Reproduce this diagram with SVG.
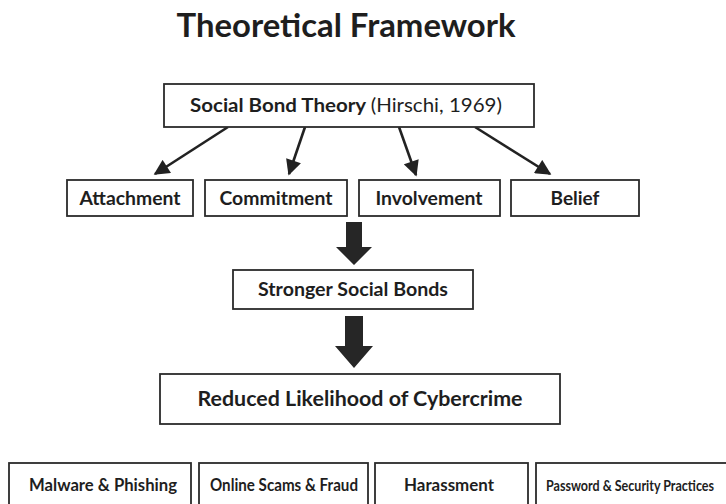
<svg xmlns="http://www.w3.org/2000/svg" width="726" height="504" viewBox="0 0 726 504">
  <defs>
    <style>
      .box { fill: #ffffff; stroke: #2b2b2b; stroke-width: 1.8; }
      .lbl { font-family: Lato, "Open Sans", "Liberation Sans", sans-serif; font-weight: bold; fill: #1e1e1e; text-anchor: middle; }
      .lite { font-weight: normal; }
      .link { stroke: #222222; stroke-width: 2.6; fill: none; marker-end: url(#head); }
      .block { fill: #262626; }
    </style>
    <marker id="head" viewBox="0 0 10 10" refX="9" refY="5" markerWidth="6.5" markerHeight="6" orient="auto" markerUnits="strokeWidth">
      <path d="M0,0 L10,5 L0,10 z" fill="#222222"/>
    </marker>
  </defs>

  <rect width="726" height="504" fill="#ffffff"/>

  <text class="lbl" x="346" y="37" font-size="32" textLength="339" lengthAdjust="spacingAndGlyphs">Theoretical Framework</text>

  <g id="connectors">
    <line class="link" x1="228" y1="127" x2="155" y2="174"/>
    <line class="link" x1="305" y1="127" x2="289" y2="174"/>
    <line class="link" x1="399" y1="127" x2="416" y2="175"/>
    <line class="link" x1="475" y1="127" x2="550" y2="174"/>
    <path class="block" d="M346,222 H362 V247 H372 L354,265 L336,247 H346 Z"/>
    <path class="block" d="M345,316 H363 V346 H373 L354,368 L335,346 H345 Z"/>
  </g>

  <g id="social-bond-theory">
    <rect class="box" x="164" y="84" width="370" height="43"/>
    <text class="lbl" x="346" y="112" font-size="19" textLength="312" lengthAdjust="spacingAndGlyphs">Social Bond Theory <tspan class="lite">(Hirschi, 1969)</tspan></text>
  </g>

  <g id="attachment">
    <rect class="box" x="67" y="180" width="126" height="36"/>
    <text class="lbl" x="130" y="205" font-size="19" textLength="101" lengthAdjust="spacingAndGlyphs">Attachment</text>
  </g>
  <g id="commitment">
    <rect class="box" x="205" y="180" width="142" height="36"/>
    <text class="lbl" x="276" y="205" font-size="19" textLength="113" lengthAdjust="spacingAndGlyphs">Commitment</text>
  </g>
  <g id="involvement">
    <rect class="box" x="359" y="180" width="141" height="36"/>
    <text class="lbl" x="429" y="205" font-size="19" textLength="107" lengthAdjust="spacingAndGlyphs">Involvement</text>
  </g>
  <g id="belief">
    <rect class="box" x="511" y="180" width="128" height="36"/>
    <text class="lbl" x="575" y="205" font-size="19">Belief</text>
  </g>

  <g id="stronger-social-bonds">
    <rect class="box" x="233" y="270" width="240" height="39"/>
    <text class="lbl" x="353" y="296" font-size="18" textLength="190" lengthAdjust="spacingAndGlyphs">Stronger Social Bonds</text>
  </g>

  <g id="reduced-likelihood">
    <rect class="box" x="160" y="374" width="400" height="50"/>
    <text class="lbl" x="360" y="406" font-size="20.5" textLength="325" lengthAdjust="spacingAndGlyphs">Reduced Likelihood of Cybercrime</text>
  </g>

  <g id="malware-phishing">
    <rect class="box" x="9" y="463" width="182" height="50"/>
    <text class="lbl" x="103" y="491" font-size="16.5" textLength="148" lengthAdjust="spacingAndGlyphs">Malware &amp; Phishing</text>
  </g>
  <g id="online-scams-fraud">
    <rect class="box" x="199" y="463" width="169" height="50"/>
    <text class="lbl" x="284" y="491" font-size="16.5" textLength="148" lengthAdjust="spacingAndGlyphs">Online Scams &amp; Fraud</text>
  </g>
  <g id="harassment">
    <rect class="box" x="375" y="463" width="153" height="50"/>
    <text class="lbl" x="449" y="491" font-size="16.5" textLength="90" lengthAdjust="spacingAndGlyphs">Harassment</text>
  </g>
  <g id="password-security">
    <rect class="box" x="536" y="463" width="200" height="50"/>
    <!-- condensed horizontally so the label fits inside the canvas -->
    <text class="lbl" transform="translate(630,491) scale(0.8,1)" x="0" y="0" font-size="15" textLength="210" lengthAdjust="spacingAndGlyphs">Password &amp; Security Practices</text>
  </g>
</svg>
